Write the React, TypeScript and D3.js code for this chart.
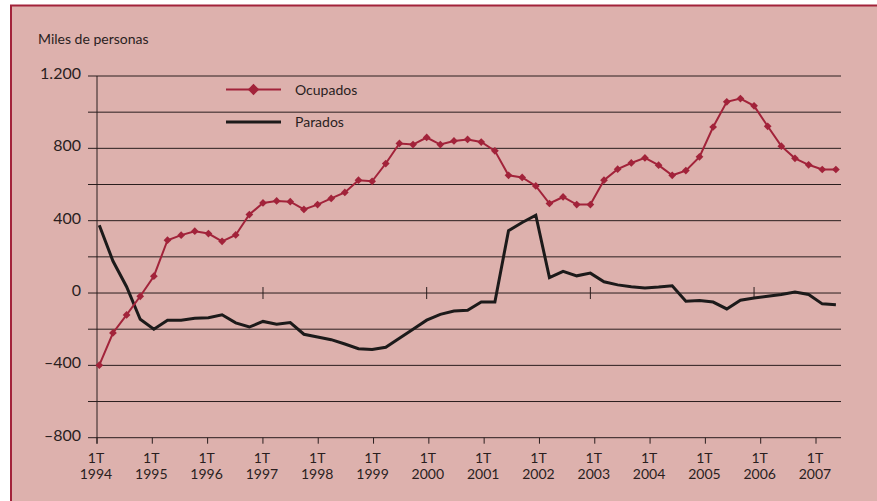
import React from "react";
import * as d3 from "d3";

const years = ["1994","1995","1996","1997","1998","1999","2000","2001","2002","2003","2004","2005","2006","2007"];
const quarterLabel = "1T";
const yTicks = [1200, 800, 400, 0, -400, -800];
const gridValues = [1200, 1000, 800, 600, 400, 200, 0, -200, -400, -600, -800];
const zeroTickYears = [1997, 2000, 2003, 2006];

const ocupados = [-399,-221,-121,-18,93,292,320,342,329,286,321,434,498,509,505,462,489,523,556,624,618,716,827,821,860,821,841,849,835,786,651,639,592,495,531,489,489,624,685,719,747,707,651,677,753,918,1057,1075,1035,922,812,745,709,683,683];
const parados = [375,177,35,-145,-200,-150,-150,-140,-137,-120,-165,-188,-157,-172,-163,-228,-243,-258,-282,-308,-312,-300,-250,-200,-150,-118,-100,-95,-50,-50,345,390,430,85,120,95,110,62,45,35,28,33,40,-45,-42,-50,-88,-40,-28,-18,-8,5,-8,-60,-65];

const seriesNames = ["Ocupados", "Parados"];
const unitLabel = "Miles de personas";

const RED = "#a2233a";
const BG = "#ddb1ad";
const INK = "#2a1e1e";
const FONT = "Lato, 'Open Sans', sans-serif";

export default function App() {
  const W = 877, H = 501;
  const y = d3.scaleLinear().domain([-800, 1200]).range([437.7, 76]);
  const xq = d3.scaleLinear().domain([0, ocupados.length - 1]).range([99.3, 835.9]);
  const xy = d3.scaleLinear().domain([1994, 2007]).range([97, 816]);
  const gridX0 = 88, gridX1 = 841;

  const lineO = d3.line<number>().x((_, i) => xq(i)).y((d) => y(d));
  const lineP = d3.line<number>().x((_, i) => xq(i)).y((d) => y(d));
  const sq = d3.symbol(d3.symbolSquare, 30)();
  const sqBig = d3.symbol(d3.symbolSquare, 64)();

  return (
    <svg width={W} height={H} style={{ position: "absolute", left: 0, top: 0 }} fontFamily={FONT}>
      <rect x={0} y={0} width={W} height={H} fill="#ffffff" />
      <rect x={11} y={5.5} width={W - 11} height={H - 5.5} fill={BG} />
      <line x1={10} x2={W} y1={5.5} y2={5.5} stroke={RED} strokeWidth={2} />
      <line x1={11} x2={11} y1={5} y2={H} stroke={RED} strokeWidth={2} />

      <text x={38} y={44} fontSize={14} fill={INK}>{unitLabel}</text>

      {gridValues.map((v) => (
        <line key={v} x1={gridX0} x2={gridX1} y1={y(v)} y2={y(v)} stroke={INK} strokeWidth={1} />
      ))}
      <line x1={xy(1994)} x2={xy(1994)} y1={y(1200)} y2={y(-800) + 6} stroke={INK} strokeWidth={1} />
      {years.map((yr) => (
        <line key={yr} x1={xy(+yr)} x2={xy(+yr)} y1={y(-800)} y2={y(-800) + 6} stroke={INK} strokeWidth={1} />
      ))}
      {zeroTickYears.map((yr) => (
        <line key={yr} x1={xq((yr - 1994) * 4)} x2={xq((yr - 1994) * 4)} y1={y(0) - 6} y2={y(0) + 6} stroke={INK} strokeWidth={1} />
      ))}

      {yTicks.map((v) => (
        <text key={v} x={81} y={y(v) + 3} fontSize={16} textAnchor="end" fill={INK}>
          {v < 0 ? "\u2013" + d3.format(",")(-v).replace(",", ".") : d3.format(",")(v).replace(",", ".")}
        </text>
      ))}
      {years.map((yr) => (
        <g key={yr} fill={INK} fontSize={14} textAnchor="middle">
          <text x={xy(+yr) - 1} y={463}>{quarterLabel}</text>
          <text x={xy(+yr) - 1} y={479}>{yr}</text>
        </g>
      ))}

      <path d={lineP(parados) || ""} fill="none" stroke="#1c1a1a" strokeWidth={3} strokeLinejoin="miter" />
      <path d={lineO(ocupados) || ""} fill="none" stroke={RED} strokeWidth={2} />
      {ocupados.map((v, i) => (
        <path key={i} d={sq || ""} transform={`translate(${xq(i)},${y(v)}) rotate(45)`} fill={RED} />
      ))}

      <line x1={226} x2={281} y1={89.5} y2={89.5} stroke={RED} strokeWidth={2} />
      <path d={sqBig || ""} transform="translate(253.5,89.5) rotate(45)" fill={RED} />
      <text x={295} y={95} fontSize={14} fill={INK}>{seriesNames[0]}</text>
      <line x1={226} x2={281} y1={122} y2={122} stroke="#1c1a1a" strokeWidth={3} />
      <text x={295} y={127} fontSize={14} fill={INK}>{seriesNames[1]}</text>
    </svg>
  );
}
